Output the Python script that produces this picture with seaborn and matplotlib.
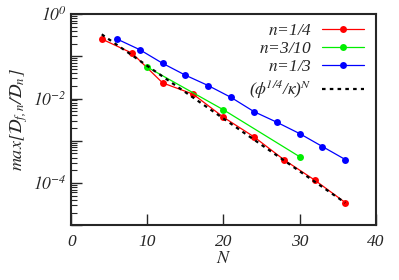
import numpy as np
import pandas as pd
import matplotlib
matplotlib.use("Agg")
import matplotlib.pyplot as plt
import matplotlib.ticker as mticker
import seaborn as sns

# data
N_quarter = [4, 8, 12, 16, 20, 24, 28, 32, 36]
D_quarter = [0.256, 0.118, 0.0234, 0.0127, 0.0036, 0.00124, 3.5e-4, 1.17e-4, 3.45e-5]
N_3_10 = [10, 20, 30]
D_3_10 = [0.055, 0.0054, 4.2e-4]
N_third = [6, 9, 12, 15, 18, 21, 24, 27, 30, 33, 36]
D_third = [0.256, 0.143, 0.068, 0.0356, 0.0202, 0.0106, 4.9e-3, 2.75e-3, 1.48e-3, 7.3e-4, 3.6e-4]
N_fit = [4, 36]
D_fit = [0.33, 3.4e-5]

labels = ["$n$=1/4", "$n$=3/10", "$n$=1/3", r"($\mathrm{\phi}^{1/4}$/$\mathrm{\kappa}$)$^N$"]

sns.set_style("ticks")
plt.rcParams["font.family"] = ["Liberation Serif", "DejaVu Serif"]
plt.rcParams["font.style"] = "italic"
plt.rcParams["mathtext.fontset"] = "stix"
plt.rcParams["mathtext.default"] = "it"

fig = plt.figure(figsize=(3.99, 2.80), dpi=100)
ax = fig.add_axes([0.1787, 0.1954, 0.9416 - 0.1787, 0.95 - 0.1954])

df_q = pd.DataFrame({"N": N_quarter, "D": D_quarter})
df_t10 = pd.DataFrame({"N": N_3_10, "D": D_3_10})
df_t = pd.DataFrame({"N": N_third, "D": D_third})
df_f = pd.DataFrame({"N": N_fit, "D": D_fit})

mk = dict(marker="o", markersize=5, markeredgewidth=0, linewidth=0.9)
sns.lineplot(data=df_q, x="N", y="D", color="#ff0000", label=labels[0], ax=ax, **mk)
sns.lineplot(data=df_t10, x="N", y="D", color="#00ee00", label=labels[1], ax=ax, **mk)
sns.lineplot(data=df_t, x="N", y="D", color="#0000ff", label=labels[2], ax=ax, **mk)
sns.lineplot(data=df_f, x="N", y="D", color="black", linestyle=(0, (1.6, 1.9)), linewidth=1.6,
             label=labels[3], ax=ax)

ax.set_yscale("log")
ax.set_xlim(0, 40)
ax.set_ylim(1e-5, 1)
ax.set_xticks([0, 10, 20, 30, 40])
ax.yaxis.set_major_locator(mticker.LogLocator(base=10, numticks=10))
ax.yaxis.set_minor_locator(mticker.LogLocator(base=10, subs=np.arange(2, 10), numticks=20))
ax.yaxis.set_minor_formatter(mticker.NullFormatter())

def yfmt(v, pos):
    e = int(round(np.log10(v)))
    if e % 2 == 0 and e >= -4:
        return r"$10^{%d}$" % e
    return ""
ax.yaxis.set_major_formatter(mticker.FuncFormatter(yfmt))

ax.tick_params(axis="both", which="major", direction="in", length=8, width=1, labelsize=12.5,
               top=False, right=False)
ax.tick_params(axis="y", which="minor", direction="in", length=4, width=0.8, right=False)
ax.tick_params(axis="x", pad=6)
for s in ax.spines.values():
    s.set_linewidth(1.5)
    s.set_visible(True)

ax.set_xlabel("$N$", fontsize=13, labelpad=0)
ax.set_ylabel(r"$max[\mathcal{D}_{f,n}/\mathcal{D}_n]$", fontsize=13, labelpad=2)

leg = ax.legend(loc="upper right", bbox_to_anchor=(0.99, 1.0), frameon=False, markerfirst=False,
                fontsize=12.5, handlelength=2.4, handletextpad=0.6, labelspacing=0.12,
                borderaxespad=0.1)

fig.savefig("out.png", dpi=100)
